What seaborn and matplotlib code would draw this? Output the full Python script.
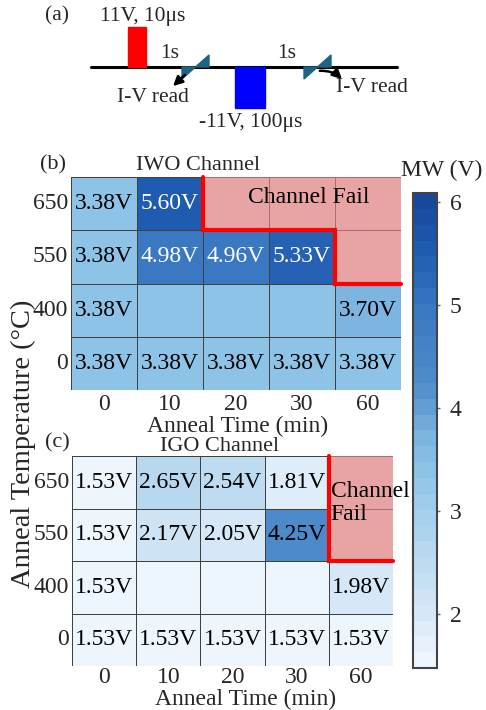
import numpy as np
import pandas as pd
import matplotlib
matplotlib.use("Agg")
import matplotlib.pyplot as plt
from matplotlib.colors import LinearSegmentedColormap, ListedColormap
from matplotlib.patches import Polygon, Rectangle
import seaborn as sns

# ---- data -----------------------------------------------------------------
anneal_time = ["0", "10", "20", "30", "60"]          # min
anneal_temp = ["650", "550", "400", "0"]             # deg C

# memory window (V); NaN = channel failed
iwo_mw = [[3.38, 5.60, np.nan, np.nan, np.nan],
          [3.38, 4.98, 4.96, 5.33, np.nan],
          [3.38, 3.38, 3.38, 3.38, 3.70],
          [3.38, 3.38, 3.38, 3.38, 3.38]]
iwo_labelled = [[1, 1, 0, 0, 0],
                [1, 1, 1, 1, 0],
                [1, 0, 0, 0, 1],
                [1, 1, 1, 1, 1]]

igo_mw = [[1.53, 2.65, 2.54, 1.81, np.nan],
          [1.53, 2.17, 2.05, 4.25, np.nan],
          [1.53, 1.53, 1.53, 1.53, 1.98],
          [1.53, 1.53, 1.53, 1.53, 1.53]]
igo_labelled = [[1, 1, 1, 1, 0],
                [1, 1, 1, 1, 0],
                [1, 0, 0, 0, 1],
                [1, 1, 1, 1, 1]]

mw_ticks = [2, 3, 4, 5, 6]
mw_min, mw_max = 1.47, 6.09

# ---- style ----------------------------------------------------------------
sns.set_style("white")
plt.rcParams["font.family"] = ["Liberation Serif", "DejaVu Serif"]

stops = [(1.47, "#eef6fd"), (2.0, "#d3e7f6"), (2.6, "#b6d8ef"),
         (3.38, "#8dc3e6"), (3.7, "#7db5e0"), (4.25, "#4f8cca"),
         (5.0, "#3a77c2"), (5.6, "#1f5bb0"), (6.09, "#17489c")]
mw_cmap = LinearSegmentedColormap.from_list(
    "mw", [((v - mw_min) / (mw_max - mw_min), c) for v, c in stops], N=30)
# translucent red wash for failed cells (grid lines show through it)
fail_cmap = ListedColormap(["#df7e7e"])

CELL_FS = 17
TICK_FS = 17

fig = plt.figure(figsize=(4.86, 7.10), dpi=100)
W, H = 486.0, 710.0


def px_axes(left, top, right, bottom):
    return fig.add_axes([left / W, 1 - bottom / H, (right - left) / W, (bottom - top) / H])


# ---- (a) pulse scheme -----------------------------------------------------
ax_a = px_axes(0, 0, 486, 150)
ax_a.set_xlim(0, 486)
ax_a.set_ylim(150, 0)
ax_a.axis("off")
base_y = 67
ax_a.plot([91, 397], [base_y, base_y], color="black", lw=2.2, zorder=2)
ax_a.add_patch(Rectangle((128, 27), 18, base_y - 27, color="#ff0000", zorder=3))
ax_a.add_patch(Rectangle((235, base_y), 30, 41, color="#0000ff", zorder=3))
for x0 in (182, 304):
    ax_a.add_patch(Polygon([(x0, base_y), (x0, base_y + 12), (x0 + 13.5, base_y)],
                           closed=True, color="#1c6384", zorder=3))
    ax_a.add_patch(Polygon([(x0 + 13.5, base_y), (x0 + 27, base_y - 12), (x0 + 27, base_y)],
                           closed=True, color="#1c6384", zorder=3))
ax_a.annotate("", xy=(171, 88), xytext=(187, 73),
              arrowprops=dict(arrowstyle="-|>", color="black", lw=1.8, mutation_scale=14))
ax_a.annotate("", xy=(344, 81), xytext=(317, 71),
              arrowprops=dict(arrowstyle="-|>", color="black", lw=1.8, mutation_scale=14,
                              connectionstyle="arc3,rad=-0.25"))
fs_a = 15.5
ax_a.text(57, 16, "(a)", fontsize=fs_a, ha="center", va="center")
ax_a.text(143, 17, "11V, 10μs", fontsize=fs_a, ha="center", va="center")
ax_a.text(170, 53, "1s", fontsize=fs_a, ha="center", va="center")
ax_a.text(287, 53, "1s", fontsize=fs_a, ha="center", va="center")
ax_a.text(153, 97, "I-V read", fontsize=fs_a, ha="center", va="center")
ax_a.text(372, 88, "I-V read", fontsize=fs_a, ha="center", va="center")
ax_a.text(251, 122, "-11V, 100μs", fontsize=fs_a, ha="center", va="center")


# ---- heatmaps -------------------------------------------------------------
def draw_panel(ax, values, labelled, cbar_ax=None):
    df = pd.DataFrame(values, index=anneal_temp, columns=anneal_time)
    fail = df.isna()
    show = np.array(labelled, bool) & ~fail.values
    labels = np.where(show, df.apply(lambda col: col.map(lambda v: f"{v:.2f}V")).values, "")
    sns.heatmap(df, ax=ax, cmap=mw_cmap, vmin=mw_min, vmax=mw_max, mask=fail,
                annot=labels, fmt="", annot_kws=dict(fontsize=CELL_FS),
                linewidths=0.6, linecolor="#404040",
                cbar=cbar_ax is not None, cbar_ax=cbar_ax)
    for t in ax.texts:
        s = t.get_text()
        if s:
            t.set_color("white" if float(s[:-1]) > 4.5 else "black")
    sns.heatmap(fail.astype(float), ax=ax, cmap=fail_cmap, mask=~fail, cbar=False,
                linewidths=0, alpha=0.7)
    ax.set_xticklabels(anneal_time, rotation=0, fontsize=TICK_FS)
    ax.set_yticklabels(anneal_temp, rotation=0, fontsize=TICK_FS)
    ax.tick_params(length=0, pad=2)
    ax.tick_params(axis="x", pad=3)
    ax.set_xlabel("Anneal Time (min)", fontsize=TICK_FS)
    ax.set_ylabel("")

    # red boundary around the failed region
    nfail = fail.values.sum(axis=0)
    pts = []
    for j, n in enumerate(nfail):
        if n == 0:
            continue
        if not pts:
            pts.append((j, 0))
        pts.append((j, n))
        pts.append((j + 1, n))
    xs, ys = zip(*pts)
    ax.plot(xs, ys, color="#ff0000", lw=3, clip_on=False, solid_joinstyle="miter", zorder=5)
    return ax


cbar_ax = px_axes(413, 193, 437, 668)

ax_b = px_axes(71, 177, 401, 390)
draw_panel(ax_b, iwo_mw, iwo_labelled, cbar_ax=cbar_ax)
ax_b.xaxis.set_label_coords(0.506, -0.12)
ax_b.text(3.6, 0.38, "Channel Fail", fontsize=CELL_FS, ha="center", va="center", color="black")

ax_c = px_axes(72, 456, 393, 666)
draw_panel(ax_c, igo_mw, igo_labelled)
ax_c.tick_params(axis="x", pad=1)
ax_c.xaxis.set_label_coords(0.542, -0.108)
ax_c.text(4.03, 0.9, "Channel\nFail", fontsize=CELL_FS, ha="left", va="center",
          linespacing=1.1, color="black")

# titles and shared labels
fig.text(40 / W, 1 - 165 / H, "(b)", fontsize=16, ha="left", va="center")
fig.text(198 / W, 1 - 165 / H, "IWO Channel", fontsize=16, ha="center", va="center")
fig.text(45 / W, 1 - 443 / H, "(c)", fontsize=16, ha="left", va="center")
fig.text(220 / W, 1 - 446 / H, "IGO Channel", fontsize=16, ha="center", va="center")
fig.text(23 / W, 1 - 444 / H, "Anneal Temperature (°C)", fontsize=20.5,
         rotation=90, ha="center", va="center")

# colour bar
cbar = ax_b.collections[0].colorbar
cbar.set_ticks(mw_ticks)
cbar.ax.tick_params(labelsize=TICK_FS, length=2, width=1, pad=7, color="#666666")
cbar.outline.set_edgecolor("#444444")
cbar.outline.set_linewidth(1.5)
fig.text(442 / W, 1 - 170 / H, "MW (V)", fontsize=17, ha="center", va="center")

fig.savefig("out.png", dpi=100)
